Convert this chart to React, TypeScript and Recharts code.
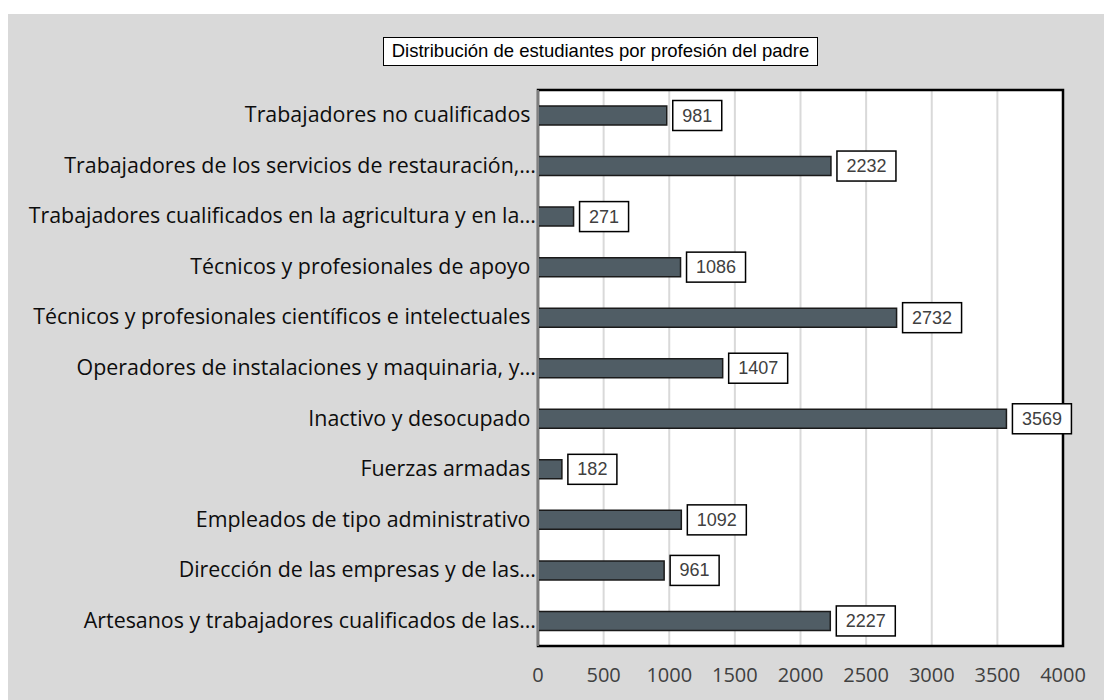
import React from 'react';
import { BarChart, Bar, XAxis, YAxis, CartesianGrid, ReferenceArea, LabelList } from 'recharts';

// Categories listed top to bottom as they appear in the chart.
const professions = [
  'Trabajadores no cualificados ',
  'Trabajadores de los servicios de restauración,…',
  'Trabajadores cualificados en la agricultura y en la…',
  'Técnicos y profesionales de apoyo ',
  'Técnicos y profesionales científicos e intelectuales ',
  'Operadores de instalaciones y maquinaria, y…',
  'Inactivo y desocupado ',
  'Fuerzas armadas ',
  'Empleados de tipo administrativo ',
  'Dirección de las empresas y de las…',
  'Artesanos y trabajadores cualificados de las…',
];

const students = [981, 2232, 271, 1086, 2732, 1407, 3569, 182, 1092, 961, 2227];

const xTicks = [0, 500, 1000, 1500, 2000, 2500, 3000, 3500, 4000];

const chartTitle = 'Distribución de estudiantes por profesión del padre';

const data = professions.map((name, i) => ({ name, value: students[i] }));

const CategoryTick = ({ x, y, payload }: any) => (
  <text
    x={x}
    y={y}
    dy={7}
    textAnchor="end"
    fill="#0d0d0d"
    fontFamily="'Open Sans', sans-serif"
    fontSize={21.4}
    style={{ whiteSpace: 'pre' }}
  >
    {payload.value}
  </text>
);

// Excel-style boxed data label to the right of each bar.
const BoxLabel = ({ x, y, width, height, value }: any) => {
  const text = String(value);
  const boxW = text.length * 10 + 19;
  const boxH = 30;
  const left = x + width + 6;
  const cy = y + height / 2;
  return (
    <g>
      <rect x={left} y={cy - boxH / 2} width={boxW} height={boxH} fill="#fff" stroke="#000" strokeWidth={1.5} />
      <text
        x={left + boxW / 2}
        y={cy}
        dy={6}
        textAnchor="middle"
        fill="#404040"
        fontFamily="'Liberation Sans', Arial, sans-serif"
        fontSize={18}
      >
        {text}
      </text>
    </g>
  );
};

const App: React.FC = () => {
  return (
    <div style={{ position: 'absolute', left: 8, top: 14, width: 1096, height: 686, background: '#d9d9d9' }}>
      <div
        style={{
          position: 'absolute',
          left: 375,
          top: 23,
          width: 435,
          height: 29,
          boxSizing: 'border-box',
          border: '1.5px solid #000',
          background: '#fff',
          fontFamily: "'Liberation Sans', Arial, sans-serif",
          fontSize: 18.5,
          color: '#000',
          textAlign: 'center',
          lineHeight: '26px',
          whiteSpace: 'nowrap',
        }}
      >
        {chartTitle}
      </div>
      <BarChart
        width={1096}
        height={686}
        data={data}
        layout="vertical"
        margin={{ top: 76, right: 41, bottom: 0, left: 0 }}
        barCategoryGap={16}
      >
        <CartesianGrid horizontal={false} stroke="#d9d9d9" strokeWidth={2} fill="#fff" />
        <XAxis
          type="number"
          domain={[0, 4000]}
          ticks={xTicks}
          axisLine={false}
          tickLine={false}
          height={54}
          tickMargin={16}
          tick={{ fill: '#404040', fontSize: 20, fontFamily: "'Open Sans', sans-serif" }}
        />
        <YAxis
          type="category"
          dataKey="name"
          width={530}
          axisLine={{ stroke: '#a6a6a6', strokeWidth: 1.5 }}
          tickLine={false}
          tickSize={0}
          tickMargin={2}
          interval={0}
          tick={<CategoryTick />}
        />
        <ReferenceArea x1={0} x2={4000} fill="none" stroke="#000" strokeWidth={2.5} ifOverflow="visible" />
        <Bar dataKey="value" fill="#505d65" stroke="#1a1a1a" strokeWidth={1.5} barSize={19} isAnimationActive={false}>
          <LabelList dataKey="value" content={<BoxLabel />} />
        </Bar>
      </BarChart>
    </div>
  );
};

export default App;
